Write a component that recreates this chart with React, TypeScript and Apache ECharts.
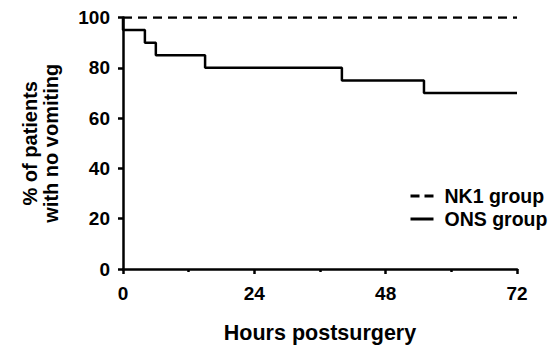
import React, { useEffect, useRef } from "react";
import * as echarts from "echarts";

const nk1Times = [0, 72];
const nk1Values = [100, 100];
const onsTimes = [0, 0, 4, 6, 15, 40, 55, 72];
const onsValues = [100, 95, 90, 85, 80, 75, 70, 70];
const xTicks = [0, 24, 48, 72];
const yTicks = [0, 20, 40, 60, 80, 100];

const FONT = "'Liberation Sans', Arial, sans-serif";

export default function App() {
  const ref = useRef<HTMLDivElement>(null);
  useEffect(() => {
    if (!ref.current) return;
    const chart = echarts.init(ref.current, null, { renderer: "svg" });
    chart.setOption({
      animation: false,
      textStyle: { fontFamily: FONT, fontWeight: "bold", color: "#000" },
      grid: { left: 123, right: 34, top: 17.5, bottom: 77, containLabel: false },
      legend: {
        orient: "vertical",
        left: 404,
        top: 181,
        itemWidth: 23,
        itemHeight: 14,
        itemGap: 3,
        itemStyle: { opacity: 0 },
        textStyle: { fontFamily: FONT, fontWeight: "bold", fontSize: 19.5, lineHeight: 20, color: "#000", padding: [0, 0, 0, 6] },
        data: [
          { name: "NK1 group", lineStyle: { width: 3, type: [9, 5] } },
          { name: "ONS group", lineStyle: { width: 3 } },
        ],
      },
      xAxis: {
        type: "value",
        min: xTicks[0],
        max: xTicks[xTicks.length - 1],
        interval: 24,
        name: "Hours postsurgery",
        nameLocation: "middle",
        nameGap: 53,
        nameTextStyle: { fontFamily: FONT, fontWeight: "bold", fontSize: 21.5, color: "#000" },
        axisLine: { show: true, onZero: false, lineStyle: { color: "#000", width: 2.5 } },
        axisTick: { show: true, length: 5, lineStyle: { color: "#000", width: 2.5 } },
        minorTick: { show: true, splitNumber: 2, length: 3, lineStyle: { color: "#000", width: 2.5 } },
        axisLabel: { margin: 15, fontFamily: FONT, fontWeight: "bold", fontSize: 19, color: "#000" },
        splitLine: { show: false },
      },
      yAxis: {
        type: "value",
        min: yTicks[0],
        max: yTicks[yTicks.length - 1],
        interval: 20,
        name: "% of patients\nwith no vomiting",
        nameLocation: "middle",
        nameGap: 62,
        nameTextStyle: { fontFamily: FONT, fontWeight: "bold", fontSize: 20, lineHeight: 21, color: "#000" },
        axisLine: { show: true, onZero: false, lineStyle: { color: "#000", width: 2.5 } },
        axisTick: { show: true, length: 5, lineStyle: { color: "#000", width: 2.5 } },
        axisLabel: { margin: 13, fontFamily: FONT, fontWeight: "bold", fontSize: 19, color: "#000" },
        splitLine: { show: false },
      },
      series: [
        {
          name: "NK1 group",
          type: "line",
          symbol: "none",
          data: nk1Times.map((t, i) => [t, nk1Values[i]]),
          lineStyle: { color: "#000", width: 2.5, type: [9, 6] },
          itemStyle: { color: "#000" },
        },
        {
          name: "ONS group",
          type: "line",
          symbol: "none",
          step: "end",
          data: onsTimes.map((t, i) => [t, onsValues[i]]),
          lineStyle: { color: "#000", width: 2.5 },
          itemStyle: { color: "#000" },
        },
      ],
    });
    return () => chart.dispose();
  }, []);
  return <div ref={ref} style={{ width: 551, height: 349, position: "absolute", left: 0, top: 0 }} />;
}
